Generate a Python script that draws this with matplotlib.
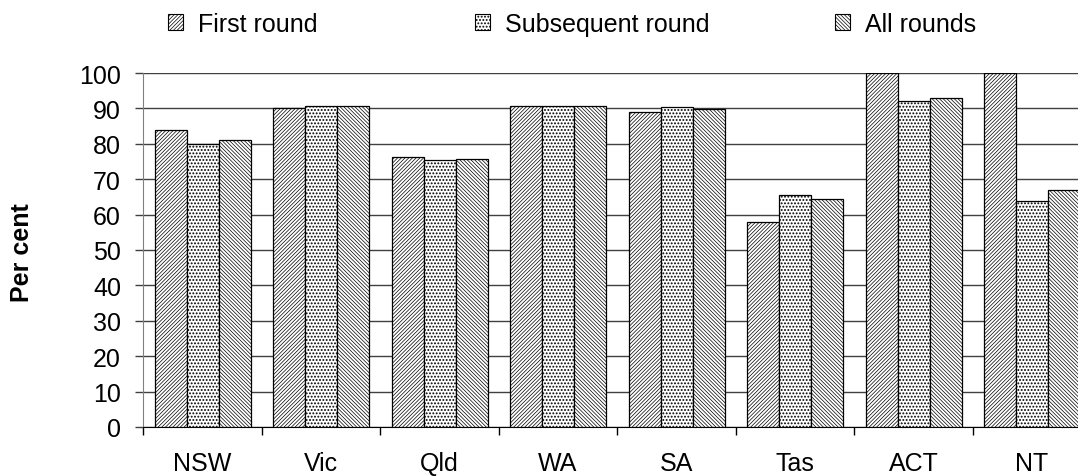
import numpy as np
import matplotlib
matplotlib.use('Agg')
import matplotlib.pyplot as plt
from matplotlib.patches import Patch

plt.rcParams['font.family'] = ['Liberation Sans', 'DejaVu Sans']

states = ['NSW', 'Vic', 'Qld', 'WA', 'SA', 'Tas', 'ACT', 'NT']
first_round = [83.8, 90.0, 76.2, 90.6, 88.9, 57.8, 100.0, 100.0]
subsequent_round = [79.9, 90.8, 75.3, 90.6, 90.3, 65.6, 92.0, 63.9]
all_rounds = [81.0, 90.8, 75.6, 90.6, 89.9, 64.5, 92.9, 67.0]

# (name, values, hatch, hatch linewidth)
series = [('First round', first_round, '/' * 9, 0.5),
          ('Subsequent round', subsequent_round, '.....', 0.9),
          ('All rounds', all_rounds, '\\' * 9, 0.5)]

W, H = 1078, 477
fig = plt.figure(figsize=(W / 100, H / 100), dpi=100)
ax = fig.add_axes([143.3 / W, 1 - 428 / H, 948 / W, 354 / H])

x = np.arange(len(states))
bw = 0.27
for i, (name, vals, hatch, hlw) in enumerate(series):
    plt.rcParams['hatch.linewidth'] = hlw
    ax.bar(x + (i - 1) * bw, vals, width=bw, facecolor='white',
           edgecolor='black', hatch=hatch, linewidth=0.9, zorder=3)

ax.set_xlim(-0.5, len(states) - 0.5)
ax.set_ylim(0, 100)
ax.set_yticks(np.arange(0, 101, 10))
ax.yaxis.grid(True, color='#404040', linewidth=1.0, zorder=0)
ax.set_axisbelow(True)

ax.set_xticks(np.arange(-0.5, len(states), 1.0))
ax.set_xticklabels([])
ax.set_xticks(x, minor=True)
ax.set_xticklabels(states, minor=True)
ax.tick_params(axis='x', which='major', length=6, width=1, color='black')
ax.tick_params(axis='x', which='minor', length=0, pad=17, labelsize=18)
ax.tick_params(axis='y', length=6, width=1, color='#404040', pad=10, labelsize=18)

for s in ['top', 'right']:
    ax.spines[s].set_visible(False)
ax.spines['left'].set_color('#808080')
ax.spines['bottom'].set_color('black')

fig.text(22 / W, 1 - 253 / H, 'Per cent', rotation=90, ha='center', va='center',
         fontsize=18, fontweight='bold')

# legend entries placed one by one along the top
legend_x = [168, 475, 835]
for (name, vals, hatch, hlw), lx in zip(series, legend_x):
    plt.rcParams['hatch.linewidth'] = hlw
    h = Patch(facecolor='white', edgecolor='black', hatch=hatch, linewidth=0.8)
    leg = fig.legend([h], [name], loc='center left',
                     bbox_to_anchor=(lx / W, 1 - 25 / H), frameon=False,
                     borderpad=0, borderaxespad=0, handlelength=0.6,
                     handleheight=0.6, handletextpad=0.6, fontsize=18)

plt.savefig('out.png', dpi=100)
